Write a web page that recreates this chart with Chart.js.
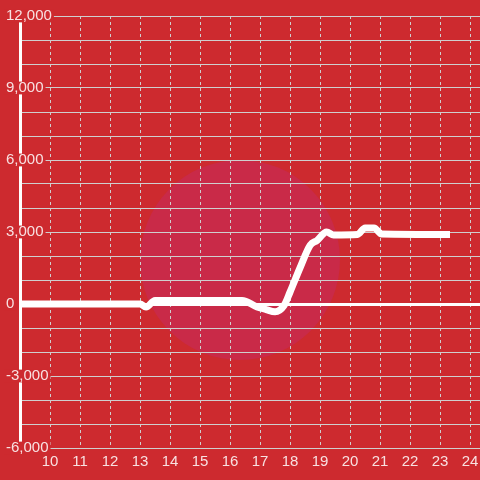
<!DOCTYPE html>
<html lang="en">
  <head>
    <meta charset="UTF-8" />
    <title>Hourly line</title>
    <script src="https://cdn.jsdelivr.net/npm/chart.js"></script>
    <style>
      html, body { margin: 0; padding: 0; background: #cd2a2f; }
      #wrap { width: 480px; height: 480px; }
    </style>
  </head>
  <body>
    <div id="wrap"><canvas id="chartCanvas"></canvas></div>

    <script>
      // hours of the day and the reading at each of them
      let hours = [8.8, 13, 13.2, 13.5, 16.4, 16.9, 17.2, 17.5, 17.8, 18.0, 18.33, 18.67, 18.9, 19.22, 19.45, 20.25, 20.5, 20.8, 21.05, 23.33];
      let values = [0, 0, -130, 150, 150, -120, -230, -320, -60, 500, 1500, 2450, 2650, 3000, 2880, 2900, 3170, 3170, 2920, 2900];
      let yLabelStep = 3000;

      let points = hours.map((h, i) => ({ x: h, y: values[i] }));

      // faint round badge behind the grid
      const badge = {
        id: "badge",
        beforeDraw(chart) {
          let ctx = chart.ctx;
          ctx.save();
          ctx.fillStyle = "#c92a48";
          ctx.beginPath();
          ctx.arc(240, 260, 100, 0, Math.PI * 2);
          ctx.fill();
          ctx.restore();
        },
      };

      let labelColor = "rgba(255,255,255,0.86)";
      let gridColor = "#cfcfcf";

      new Chart(document.getElementById("chartCanvas"), {
        type: "line",
        data: {
          datasets: [
            {
              data: points,
              borderColor: "#ffffff",
              borderWidth: 7,
              pointRadius: 0,
              cubicInterpolationMode: "monotone",
              fill: false,
            },
          ],
        },
        options: {
          responsive: true,
          maintainAspectRatio: false,
          animation: false,
          events: [],
          layout: { autoPadding: false, padding: { top: 16, left: 0, right: 0, bottom: 0 } },
          plugins: { legend: { display: false }, tooltip: { enabled: false } },
          scales: {
            x: {
              type: "linear",
              min: 9,
              max: 24.33,
              afterFit: (s) => {
                s.height = 32;
                s.paddingLeft = 0;
                s.paddingRight = 0;
              },
              border: { display: false, dash: [3, 3] },
              grid: {
                drawTicks: false,
                color: (c) => (c.tick && c.tick.value === 9 ? "transparent" : gridColor),
              },
              ticks: {
                stepSize: 1,
                includeBounds: false,
                padding: 5,
                z: 1,
                color: labelColor,
                font: { family: "Liberation Sans", size: 15 },
                callback: (v) => (v >= 10 ? String(v) : ""),
              },
            },
            y: {
              min: -6000,
              max: 12000,
              afterFit: (s) => {
                s.width = 20;
                s.paddingTop = 0;
                s.paddingBottom = 0;
              },
              border: { display: true, color: "#ffffff", width: 3 },
              grid: {
                drawTicks: false,
                color: (c) => (c.tick && c.tick.value === 0 ? "#ffffff" : gridColor),
                lineWidth: (c) => (c.tick && c.tick.value === 0 ? 3 : 1),
              },
              ticks: {
                stepSize: 1000,
                mirror: true,
                padding: -14,
                color: labelColor,
                font: { family: "Liberation Sans", size: 15, lineHeight: 0.85 },
                showLabelBackdrop: (c) => c.tick.value % yLabelStep === 0,
                backdropColor: "#cd2a2f",
                backdropPadding: { top: 0, bottom: 0, left: 2, right: 2 },
                callback: (v) => (v % yLabelStep === 0 ? v.toLocaleString("en-US") : ""),
              },
            },
          },
        },
        plugins: [badge],
      });
    </script>
  </body>
</html>
